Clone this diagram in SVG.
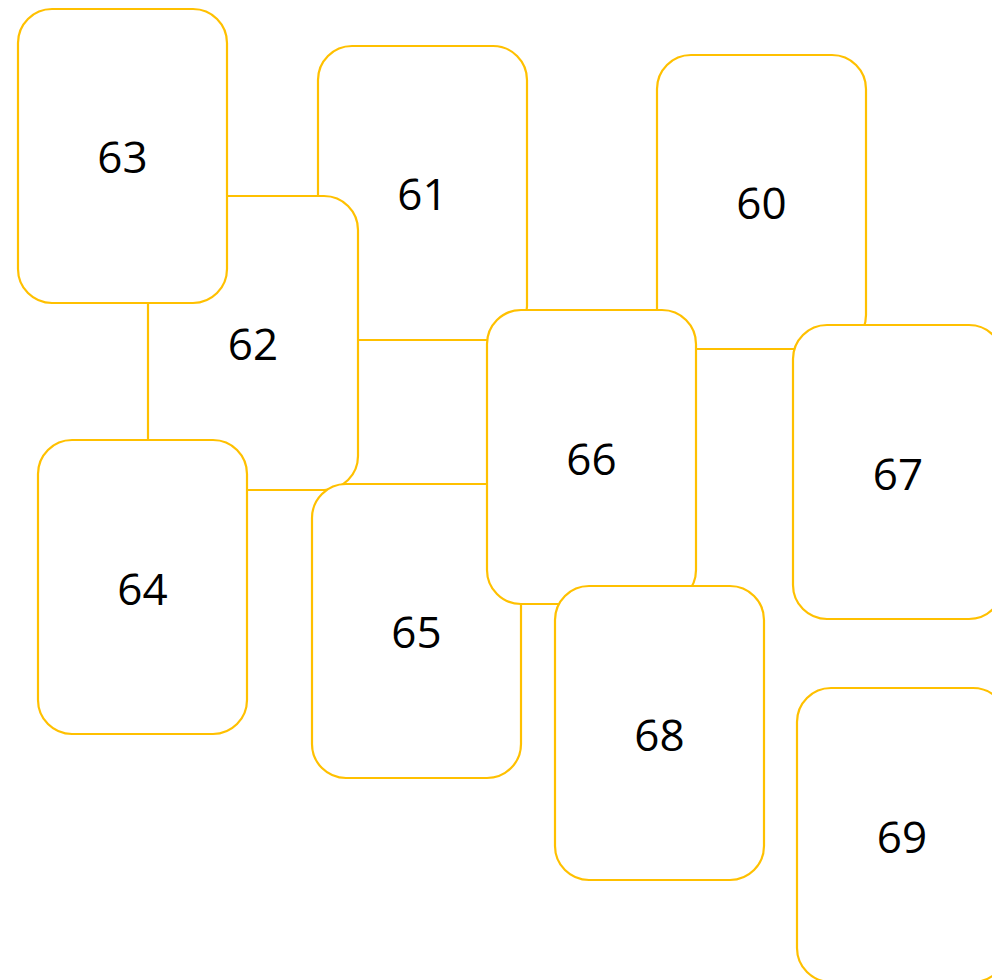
<svg xmlns="http://www.w3.org/2000/svg" width="992" height="980" viewBox="0 0 992 980">
<style>
.card rect{fill:#fff;stroke:#FFC000;stroke-width:2.2}
.card text{font-family:"Open Sans","Liberation Sans",sans-serif;font-size:44px;fill:#000;text-anchor:middle}
</style>
<rect width="992" height="980" fill="#fff"/>
<g id="connectors"></g>
<g id="n60" class="card"><rect x="657" y="55" width="209" height="294" rx="34"/><text x="761.5" y="219">60</text></g>
<g id="n61" class="card"><rect x="318" y="46" width="209" height="294" rx="34"/><text x="422.5" y="210">61</text></g>
<g id="n62" class="card"><rect x="148" y="196" width="210" height="294" rx="34"/><text x="253" y="360">62</text></g>
<g id="n63" class="card"><rect x="18" y="9" width="209" height="294" rx="34"/><text x="122.5" y="173">63</text></g>
<g id="n64" class="card"><rect x="38" y="440" width="209" height="294" rx="34"/><text x="142.5" y="605">64</text></g>
<g id="n65" class="card"><rect x="312" y="484" width="209" height="294" rx="34"/><text x="416.5" y="648">65</text></g>
<g id="n66" class="card"><rect x="487" y="310" width="209" height="294" rx="34"/><text x="591.5" y="475">66</text></g>
<g id="n67" class="card"><rect x="793" y="325" width="210" height="294" rx="34"/><text x="898" y="490">67</text></g>
<g id="n68" class="card"><rect x="555" y="586" width="209" height="294" rx="34"/><text x="659.5" y="751">68</text></g>
<g id="n69" class="card"><rect x="797" y="688" width="210" height="294" rx="34"/><text x="902" y="853">69</text></g>
</svg>
